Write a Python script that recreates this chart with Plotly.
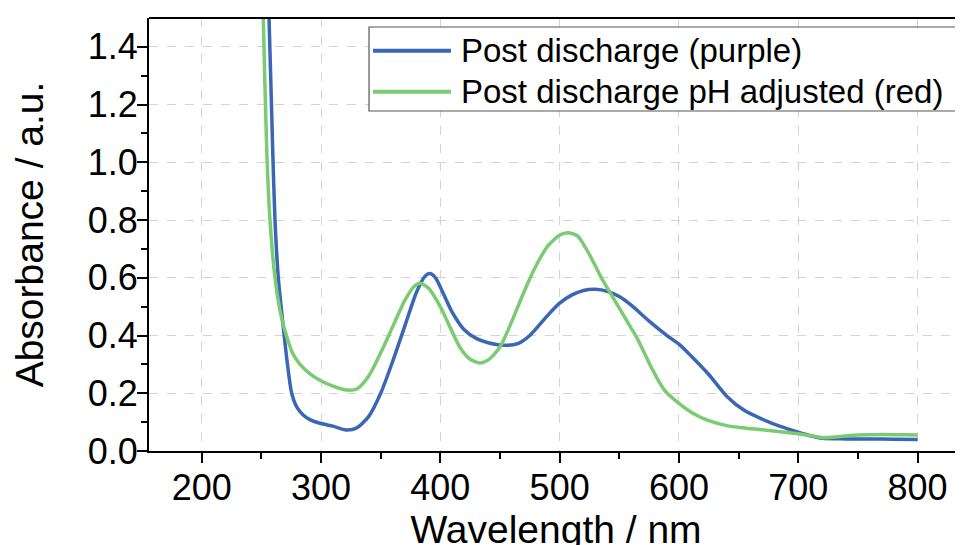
import plotly.graph_objects as go

# Post discharge (purple) - blue trace
wl_purple = [252, 256.4, 259.5, 261.4, 264.2, 268, 271, 275.4, 280, 285, 291, 299, 310, 321, 330,
             340, 350, 360, 370, 380, 387, 391, 396, 402, 410, 420, 430, 440, 455, 465, 475, 490,
             500, 510, 520, 530, 540, 550, 560, 575, 590, 600, 610, 625, 640, 655, 670, 685, 700,
             710, 720, 740, 760, 780, 800]
abs_purple = [2.0, 1.5, 1.04, 0.8, 0.6, 0.443, 0.33, 0.2, 0.15, 0.125, 0.108, 0.096, 0.086, 0.073,
              0.08, 0.12, 0.2, 0.31, 0.43, 0.55, 0.605, 0.615, 0.6, 0.55, 0.48, 0.42, 0.39, 0.375,
              0.366, 0.372, 0.4, 0.47, 0.512, 0.54, 0.556, 0.56, 0.553, 0.535, 0.505, 0.45, 0.40,
              0.37, 0.33, 0.265, 0.19, 0.14, 0.11, 0.085, 0.065, 0.053, 0.044, 0.042, 0.042, 0.041,
              0.04]

# Post discharge pH adjusted (red) - green trace
wl_red = [249, 251.6, 254.5, 257.2, 261.4, 265, 268, 271, 276, 282.4, 290, 299, 310, 321.5, 330,
          340, 350, 360, 370, 378, 383, 390, 400, 408, 417, 425, 433, 440, 450, 460, 470, 480, 490,
          500, 507, 515, 525, 535, 545, 555, 565, 578, 588, 600, 612, 625, 640, 655, 670, 685, 700,
          712, 722, 735, 750, 770, 790, 800]
abs_red = [2.0, 1.5, 1.04, 0.8, 0.6, 0.5, 0.443, 0.4, 0.34, 0.3, 0.27, 0.245, 0.225, 0.211, 0.215,
           0.26, 0.34, 0.43, 0.52, 0.57, 0.581, 0.565, 0.5, 0.43, 0.355, 0.318, 0.305, 0.315, 0.36,
           0.45, 0.55, 0.64, 0.71, 0.748, 0.756, 0.745, 0.68, 0.6, 0.53, 0.46, 0.39, 0.28, 0.21,
           0.165, 0.13, 0.105, 0.088, 0.08, 0.074, 0.067, 0.06, 0.052, 0.046, 0.05, 0.055, 0.057,
           0.056, 0.055]

series_names = ["Post discharge (purple)", "Post discharge pH adjusted (red)"]
x_ticks = [200, 300, 400, 500, 600, 700, 800]
y_ticks = [0.0, 0.2, 0.4, 0.6, 0.8, 1.0, 1.2, 1.4]

BLUE = "#3A67B3"
GREEN = "#7ACB72"
FONT = "Liberation Sans, Arial, sans-serif"

fig = go.Figure()
fig.add_trace(go.Scatter(x=wl_purple, y=abs_purple, mode="lines", name=series_names[0],
                         line=dict(color=BLUE, width=3.5, shape="spline", smoothing=0.7)))
fig.add_trace(go.Scatter(x=wl_red, y=abs_red, mode="lines", name=series_names[1],
                         line=dict(color=GREEN, width=3.5, shape="spline", smoothing=0.7)))

# Legend drawn as a framed box (paper coordinates)
leg_x0, leg_x1, leg_y0, leg_y1 = 0.2703, 0.9963, 0.7852, 0.9792
row_y = [0.9245, 0.8298]
colors = [BLUE, GREEN]
shapes = [
    dict(type="line", xref="paper", yref="paper", x0=0, x1=1, y0=1, y1=1,
         line=dict(color="black", width=2)),
    dict(type="rect", xref="paper", yref="paper", x0=leg_x0, x1=leg_x1, y0=leg_y0, y1=leg_y1,
         fillcolor="white", line=dict(color="#555555", width=1.2), layer="above"),
]
annotations = []
for name, col, ry in zip(series_names, colors, row_y):
    shapes.append(dict(type="line", xref="paper", yref="paper", x0=0.2752, x1=0.3710, y0=ry, y1=ry,
                       line=dict(color=col, width=4), layer="above"))
    annotations.append(dict(text=name, xref="paper", yref="paper", x=0.3809, y=ry,
                            xanchor="left", yanchor="middle", showarrow=False,
                            font=dict(size=33, family=FONT, color="black")))

fig.update_layout(
    width=963, height=545,
    margin=dict(l=141, r=8, t=10, b=102),
    paper_bgcolor="white", plot_bgcolor="white",
    font=dict(family=FONT, color="black"),
    showlegend=False,
    xaxis=dict(range=[155.8, 838.1], tickvals=x_ticks, ticks="outside", ticklen=10, tickwidth=2,
               tickcolor="black", showline=True, linecolor="black", linewidth=2,
               showgrid=True, gridcolor="#d3d3d3", griddash="dash", gridwidth=1,
               zeroline=False, tickfont=dict(size=36), automargin=False, ticklabelstandoff=-6,
               minor=dict(tickvals=[250, 350, 450, 550, 650, 750], ticks="outside", ticklen=6,
                          tickwidth=2, tickcolor="black", showgrid=False),
               title=dict(text="Wavelength / nm", font=dict(size=39), standoff=8)),
    yaxis=dict(range=[0, 1.5], tickvals=y_ticks, tickformat=".1f", ticks="outside", ticklen=10,
               tickwidth=2, tickcolor="black", showline=True, linecolor="black", linewidth=2,
               showgrid=True, gridcolor="#d3d3d3", griddash="dash", gridwidth=1,
               zeroline=False, tickfont=dict(size=36), automargin=False, ticklabelstandoff=-8,
               minor=dict(tickvals=[0.1, 0.3, 0.5, 0.7, 0.9, 1.1, 1.3], ticks="outside", ticklen=6,
                          tickwidth=2, tickcolor="black", showgrid=False),
               title=dict(text="Absorbance / a.u.", font=dict(size=39), standoff=32)),
    shapes=shapes,
    annotations=annotations,
)

fig.write_html("out.html")
